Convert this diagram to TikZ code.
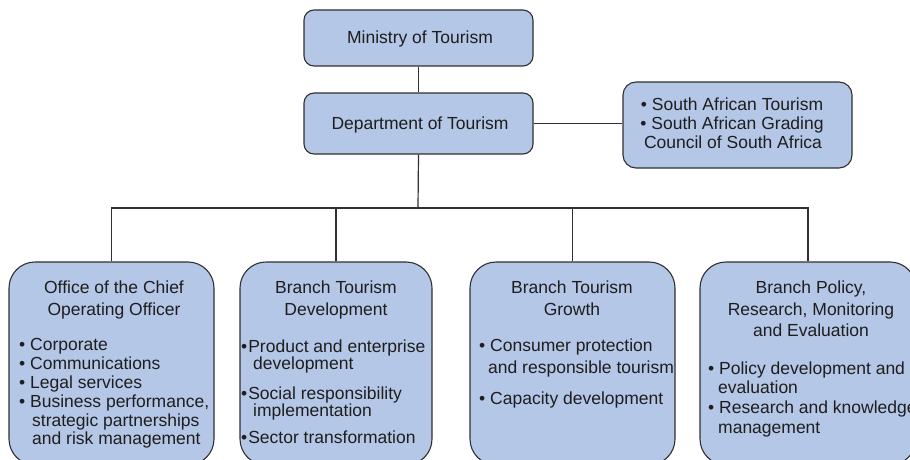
\documentclass[tikz,border=0pt]{standalone}
\usepackage{fontspec}
\setmainfont{Liberation Sans}
\definecolor{boxfill}{RGB}{180,199,231}
\definecolor{edgec}{RGB}{48,48,48}
\definecolor{textc}{RGB}{30,30,30}
\tikzset{
  orgbox/.style={draw=edgec, fill=boxfill, line width=1.1pt, inner sep=0pt},
  topbox/.style={orgbox, rounded corners=10pt},
  unitbox/.style={orgbox, rounded corners=26pt},
  link/.style={draw=edgec, line width=1.2pt},
  tc/.style={font=\fontsize{17.5}{19}\selectfont, inner sep=0pt, anchor=base, text=textc},
  tl/.style={tc, anchor=base west},
}
\begin{document}
\begin{tikzpicture}[x=1pt, y=-1pt]
\clip (0,0) rectangle (910,460);
\fill[white] (0,0) rectangle (910,460);

% boxes
\node[topbox, minimum width=229pt, minimum height=56pt] (min) at (418.5,38) {};
\node[topbox, minimum width=229pt, minimum height=61pt] (dep) at (418.5,123.5) {};
\node[topbox, rounded corners=13pt, minimum width=229pt, minimum height=86pt] (rb) at (737.5,125) {};
\node[unitbox, minimum width=205pt, minimum height=203pt] (b1) at (111.5,363.5) {};
\node[unitbox, minimum width=192pt, minimum height=203pt] (b2) at (336,363.5) {};
\node[unitbox, minimum width=205pt, minimum height=203pt] (b3) at (572.5,363.5) {};
\node[unitbox, minimum width=216pt, minimum height=203pt] (b4) at (808,363.5) {};

% connectors
\coordinate (bus) at (418,208);
\draw[link] (min.south) -- (dep.north);
\draw[link] (dep.east) -- (dep.east -| rb.west);
\draw[link] (dep.south) -- (bus);
\draw[link] (b1.north) |- (bus) -| (b4.north);
\draw[link] (b2.north) -- (b2.north |- bus);
\draw[link] (b3.north) -- (b3.north |- bus);

% top texts
\node[tc] (tmin) at (420,44) {Ministry of Tourism};
\node[tc] (tdep) at (420,129) {Department of Tourism};
\node[tc] (rb1) at (732,110.5) {• South African Tourism};
\node[tc] (rb2) at (732,129.5) {• South African Grading};
\node[tc] (rb3) at (733,148.5) {Council of South Africa};

% box 1
\node[tc] (b1t1) at (114,293) {Office of the Chief};
\node[tc] (b1t2) at (114,315) {Operating Officer};
\node[tl] (b1l1) at (19,350) {• Corporate};
\node[tl] (b1l2) at (19,369) {• Communications};
\node[tl] (b1l3) at (19,388) {• Legal services};
\node[tl] (b1l4) at (19,407) {• Business performance,};
\node[tl] (b1l5) at (32,426) {strategic partnerships};
\node[tl] (b1l6) at (32,444) {and risk management};

% box 2
\node[tc] (b2t1) at (336,293) {Branch Tourism};
\node[tc] (b2t2) at (336,315) {Development};
\node[tl] (b2l1) at (241,352) {•\kern1pt Product and enterprise};
\node[tl] (b2l2) at (253,369) {development};
\node[tl] (b2l3) at (241,399) {•\kern1pt Social responsibility};
\node[tl] (b2l4) at (253,416) {implementation};
\node[tl] (b2l5) at (241,443) {•\kern1pt Sector transformation};

% box 3
\node[tc] (b3t1) at (572,293) {Branch Tourism};
\node[tc] (b3t2) at (572,315) {Growth};
\node[tl] (b3l1) at (479,351) {• Consumer protection};
\node[tl] (b3l2) at (488,373) {and responsible tourism};
\node[tl] (b3l3) at (479,404) {• Capacity development};

% box 4
\node[tc] (b4t1) at (811,293) {Branch Policy,};
\node[tc] (b4t2) at (811,315) {Research, Monitoring};
\node[tc] (b4t3) at (811,336) {and Evaluation};
\node[tl] (b4l1) at (708,374) {• Policy development and};
\node[tl] (b4l2) at (718,393) {evaluation};
\node[tl] (b4l3) at (708,413) {• Research and knowledge};
\node[tl] (b4l4) at (718,433) {management};
\end{tikzpicture}
\end{document}
